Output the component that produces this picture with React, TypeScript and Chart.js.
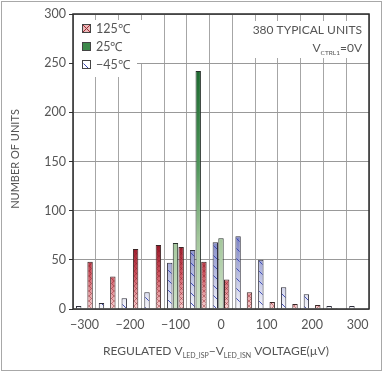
import React, { useEffect, useRef } from "react";
import { Chart, registerables } from "chart.js";

Chart.register(...registerables);

// ---- Data ----
const categories = [-300, -250, -200, -150, -100, -50, 0, 50, 100, 150, 200, 250, 300];
const series125 = [48, 33, 61, 65, 63, 48, 30, 17, 7, 5, 4, 0, 0];
const series25 = [0, 0, 0, 0, 67, 242, 72, 1, 0, 0, 0, 1, 0];
const seriesM45 = [3, 6, 11, 17, 47, 60, 68, 74, 50, 22, 15, 3, 3];
const yMin = 0;
const yMax = 300;
const yStep = 50;
const legendLabels = ["125℃", "25℃", "−45℃"];
const seriesNames = ["−45℃", "25℃", "125℃"];
const noteLine1 = "380 TYPICAL UNITS";
const yTitle = "NUMBER OF UNITS";

const FONT = "Lato, 'Open Sans', sans-serif";
const TEXT = "#555";

function fmt(v: number): string {
  return v < 0 ? "−" + Math.abs(v) : String(v);
}

const patternCache: Record<string, any> = {};

function buildPattern(chart: any, kind: string): any {
  const area = chart.chartArea;
  if (!area) return "#ccc";
  const key = kind + ":" + area.top + ":" + area.bottom + ":" + chart.width;
  if (patternCache[key]) return patternCache[key];
  const w = chart.width;
  const h = chart.height;
  const y = chart.scales.y;
  const off = document.createElement("canvas");
  off.width = w;
  off.height = h;
  const c = off.getContext("2d") as CanvasRenderingContext2D;
  const py = (v: number) => y.getPixelForValue(v);
  let g: CanvasGradient;
  if (kind === "red") {
    g = c.createLinearGradient(0, py(64), 0, py(0));
    g.addColorStop(0, "#9b1a2b");
    g.addColorStop(0.45, "#cc5560");
    g.addColorStop(1, "#f7d3d3");
  } else if (kind === "green") {
    g = c.createLinearGradient(0, py(242), 0, py(0));
    g.addColorStop(0, "#1d6930");
    g.addColorStop(0.4, "#4f965b");
    g.addColorStop(0.7, "#a2c69a");
    g.addColorStop(1, "#cfe3c9");
  } else {
    g = c.createLinearGradient(0, py(75), 0, py(0));
    g.addColorStop(0, "#7b82c2");
    g.addColorStop(0.5, "#b4b9e0");
    g.addColorStop(1, "#f8f8fc");
  }
  c.fillStyle = g;
  c.fillRect(0, 0, w, h);
  if (kind === "red") {
    c.strokeStyle = "rgba(140,25,35,0.55)";
    c.lineWidth = 0.8;
    const s = 5;
    c.beginPath();
    for (let k = -h; k < w + h; k += s) {
      c.moveTo(k, 0);
      c.lineTo(k + h, h);
      c.moveTo(k, h);
      c.lineTo(k + h, 0);
    }
    c.stroke();
  } else if (kind === "blue") {
    c.strokeStyle = "rgba(50,65,180,0.9)";
    c.lineWidth = 1;
    const s = 10;
    c.beginPath();
    for (let k = -h; k < w + h; k += s) {
      c.moveTo(k, 0);
      c.lineTo(k + h, h);
    }
    c.stroke();
  }
  const p = chart.ctx.createPattern(off, "no-repeat");
  patternCache[key] = p;
  return p;
}

function drawRich(
  ctx: CanvasRenderingContext2D,
  parts: { t: string; sub?: boolean }[],
  x: number,
  y: number,
  align: "center" | "right",
  size: number,
  subSize: number
) {
  const mainFont = `${size}px ${FONT}`;
  const subFont = `${subSize}px ${FONT}`;
  let total = 0;
  const widths = parts.map((p) => {
    ctx.font = p.sub ? subFont : mainFont;
    const m = ctx.measureText(p.t).width;
    total += m;
    return m;
  });
  let cx = align === "center" ? x - total / 2 : x - total;
  ctx.textAlign = "left";
  ctx.textBaseline = "alphabetic";
  parts.forEach((p, i) => {
    ctx.font = p.sub ? subFont : mainFont;
    ctx.fillText(p.t, cx, p.sub ? y + 3 : y);
    cx += widths[i];
  });
}

const decorPlugin = {
  id: "decor",
  beforeDraw(chart: any) {
    const ctx = chart.ctx;
    ctx.save();
    ctx.fillStyle = "#fff";
    ctx.fillRect(0, 0, chart.width, chart.height);
    ctx.restore();
  },
  beforeDatasetsDraw(chart: any) {
    const ctx = chart.ctx;
    const a = chart.chartArea;
    ctx.save();
    ctx.fillStyle = "#fff";
    // legend box
    ctx.fillRect(a.left + 1, 20, 143 - a.left, 43);
    ctx.fillRect(a.left + 1, 62, 136 - a.left, 15);
    // note box
    ctx.fillRect(245, 21, a.right - 245 - 1, 37);
    ctx.restore();
  },
  afterDatasetsDraw(chart: any) {
    const ctx = chart.ctx;
    const a = chart.chartArea;
    ctx.save();
    ctx.strokeStyle = "#2a2a2a";
    ctx.lineWidth = 1.5;
    ctx.strokeRect(a.left, a.top, a.right - a.left, a.bottom - a.top);
    ctx.restore();
  },
  afterDraw(chart: any) {
    const ctx = chart.ctx as CanvasRenderingContext2D;
    const a = chart.chartArea;
    ctx.save();
    // outer frame
    ctx.strokeStyle = "#a8a8a8";
    ctx.lineWidth = 1;
    ctx.strokeRect(1.5, 1.5, 380, 369);

    ctx.fillStyle = TEXT;
    // y title
    ctx.save();
    ctx.translate(15, 159);
    ctx.rotate(-Math.PI / 2);
    ctx.font = `11px ${FONT}`;
    ctx.textAlign = "center";
    ctx.textBaseline = "middle";
    ctx.fillText(yTitle, 0, 0);
    ctx.restore();

    // x title
    drawRich(
      ctx,
      [
        { t: "REGULATED V" },
        { t: "LED_ISP", sub: true },
        { t: "−V" },
        { t: "LED_ISN", sub: true },
        { t: " VOLTAGE(µV)" },
      ],
      216,
      355,
      "center",
      12,
      7
    );

    // note
    ctx.font = `12px ${FONT}`;
    ctx.textAlign = "right";
    ctx.textBaseline = "middle";
    ctx.fillText(noteLine1, 362, 30);
    drawRich(ctx, [{ t: "V" }, { t: "CTRL1", sub: true }, { t: "=0V" }], 362, 52, "right", 12, 6.5);

    // legend
    const rows = [28.5, 46.5, 64.5];
    const kinds = ["red", "green", "blue"];
    rows.forEach((ry, i) => {
      const x0 = 82.5;
      const y0 = ry - 4;
      const s = 8;
      ctx.save();
      if (kinds[i] === "red") {
        ctx.fillStyle = "#ebb9b9";
        ctx.fillRect(x0, y0, s, s);
        ctx.strokeStyle = "#9b2a33";
        ctx.lineWidth = 1;
        ctx.beginPath();
        ctx.moveTo(x0, y0);
        ctx.lineTo(x0 + s, y0 + s);
        ctx.moveTo(x0 + s, y0);
        ctx.lineTo(x0, y0 + s);
        ctx.stroke();
      } else if (kinds[i] === "green") {
        ctx.fillStyle = "#3e8a4c";
        ctx.fillRect(x0, y0, s, s);
      } else {
        ctx.fillStyle = "#fff";
        ctx.fillRect(x0, y0, s, s);
        ctx.strokeStyle = "#3a48b4";
        ctx.lineWidth = 1;
        ctx.beginPath();
        ctx.moveTo(x0 + 1, y0 + 3);
        ctx.lineTo(x0 + 6, y0 + s);
        ctx.stroke();
      }
      ctx.strokeStyle = "#444";
      ctx.lineWidth = 1;
      ctx.strokeRect(x0, y0, s, s);
      ctx.restore();
      ctx.fillStyle = TEXT;
      ctx.font = `12.5px ${FONT}`;
      ctx.textAlign = "left";
      ctx.textBaseline = "middle";
      ctx.fillText(legendLabels[i], 96, ry + 0.5);
    });
    ctx.restore();
  },
};

export default function App() {
  const ref = useRef<HTMLCanvasElement | null>(null);
  useEffect(() => {
    document.body.style.margin = "0";
    const canvas = ref.current;
    if (!canvas) return;
    const chart = new Chart(canvas, {
      type: "bar",
      data: {
        labels: categories.map(String),
        datasets: [
          {
            label: seriesNames[0],
            data: seriesM45,
            backgroundColor: (c: any) => buildPattern(c.chart, "blue"),
            borderColor: "#2e2e3a",
            borderWidth: 1,
          },
          {
            label: seriesNames[1],
            data: series25,
            backgroundColor: (c: any) => buildPattern(c.chart, "green"),
            borderColor: "#26302a",
            borderWidth: 1,
          },
          {
            label: seriesNames[2],
            data: series125,
            backgroundColor: (c: any) => buildPattern(c.chart, "red"),
            borderColor: "#3a2626",
            borderWidth: 1,
          },
        ] as any,
      },
      options: {
        responsive: false,
        maintainAspectRatio: false,
        animation: false,
        devicePixelRatio: 1,
        layout: { padding: { left: 0, top: 14, right: 15, bottom: 0 } },
        datasets: {
          bar: { categoryPercentage: 0.75, barPercentage: 0.95 } as any,
        },
        plugins: {
          legend: { display: false },
          tooltip: { enabled: false },
          title: { display: false },
        },
        scales: {
          x: {
            type: "category",
            offset: true,
            grid: {
              offset: true,
              color: "#a6a6a6",
              lineWidth: 1,
              drawTicks: false,
            },
            border: { display: false },
            ticks: {
              autoSkip: false,
              maxRotation: 0,
              padding: 8,
              color: TEXT,
              font: { family: FONT, size: 12.5 },
              callback: (_v: any, i: number) => (i % 2 === 0 ? fmt(categories[i]) : ""),
            },
            afterFit: (s: any) => {
              s.height = 63;
            },
          },
          y: {
            min: yMin,
            max: yMax,
            ticks: {
              stepSize: yStep,
              padding: 3,
              color: TEXT,
              font: { family: FONT, size: 12.5 },
            },
            grid: {
              color: "#999",
              lineWidth: 1,
              drawTicks: true,
              tickLength: 4,
              tickColor: "#333",
            },
            border: { display: false },
            afterFit: (s: any) => {
              s.width = 73;
            },
          },
        },
      },
      plugins: [decorPlugin],
    });
    return () => chart.destroy();
  }, []);
  return (
    <div style={{ position: "fixed", left: 0, top: 0, width: 384, height: 372 }}>
      <canvas ref={ref} width={384} height={372} style={{ width: 384, height: 372 }} />
    </div>
  );
}
